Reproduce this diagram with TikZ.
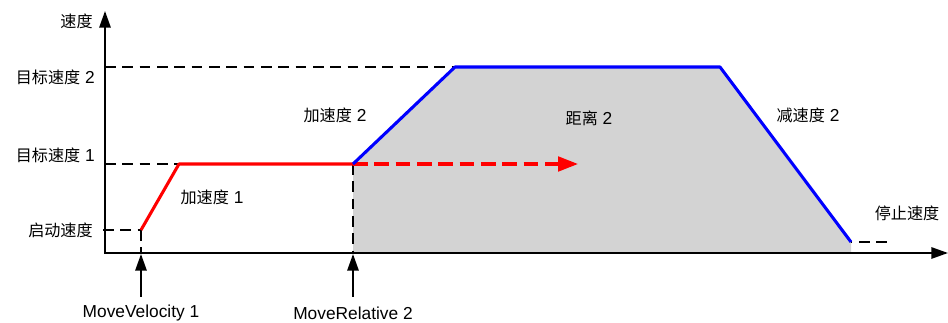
\documentclass[tikz,border=0pt]{standalone}
\usepackage{fontspec}
\setmainfont{Liberation Sans}
\newfontfamily\cjk[Scale=0.93]{Noto Sans CJK SC}
\usetikzlibrary{arrows.meta}
\definecolor{areagray}{RGB}{211,211,211}
\definecolor{pureblue}{RGB}{0,0,255}
\definecolor{purered}{RGB}{255,0,0}
\begin{document}
\begin{tikzpicture}[x=0.75pt,y=-0.75pt,
  lbl/.style={font=\fontsize{13}{15}\selectfont, inner sep=0pt},
  axisline/.style={line width=1.4pt,-{Triangle[length=12.5pt,width=8.5pt]}},
  guide/.style={line width=1.1pt,dash pattern=on 8pt off 5pt},
  redline/.style={line width=2.3pt,purered,line join=round},
  blueline/.style={line width=2.3pt,pureblue,line join=round},
  reddash/.style={line width=2.3pt,purered,dash pattern=on 11pt off 5pt,-{Triangle[length=15pt,width=11pt]}},
  cmdarrow/.style={line width=1.4pt,-{Triangle[length=12.5pt,width=8.5pt]}}]
\useasboundingbox (0,0) rectangle (948,323);
% key points
\coordinate (O) at (105,253);
\coordinate (Ytop) at (105,11);
\coordinate (Xend) at (948,253);
\coordinate (S0) at (141,230);
\coordinate (S1) at (179,164);
\coordinate (R0) at (353,164);
\coordinate (Rend) at (578,164);
\coordinate (B1) at (455,67);
\coordinate (B2) at (720,67);
\coordinate (B3) at (851,242);
\coordinate (B3b) at (851,253);
\coordinate (R0b) at (353,253);
\coordinate (S0b) at (141,253);
\coordinate (L2) at (105,67);
\coordinate (L1) at (105,164);
\coordinate (Ls) at (103,230);
\coordinate (Le) at (887,242);
\coordinate (A1s) at (141,297);
\coordinate (A1e) at (141,254);
\coordinate (A2s) at (353,297);
\coordinate (A2e) at (353,254);
% shaded area
\fill[areagray] (R0b) -- (R0) -- (B1) -- (B2) -- (B3) -- (B3b) -- cycle;
% guides
\draw[guide] (L2) -- (B1);
\draw[guide] (L1) -- (S1);
\draw[guide] (Ls) -- (S0);
\draw[guide] (S0) -- (S0b);
\draw[guide] (R0) -- (R0b);
\draw[guide,dash phase=-6pt] (B3) -- (Le);
% axes
\draw[axisline] (O) -- (Ytop);
\draw[axisline] ([xshift=-0.7pt]O) -- (Xend);
% profiles
\draw[redline] (S0) -- (S1) -- (R0);
\draw[reddash] (R0) -- (Rend);
\draw[blueline] (R0) -- (B1) -- (B2) -- (B3);
% command arrows
\draw[cmdarrow] (A1s) -- (A1e);
\draw[cmdarrow] (A2s) -- (A2e);
% labels
\node[lbl,anchor=east] (ly) at (93,21) {\cjk 速度};
\node[lbl,anchor=east] (lv2) at (95,77) {{\cjk 目标速度} 2};
\node[lbl,anchor=east] (lv1) at (95,155) {{\cjk 目标速度} 1};
\node[lbl,anchor=east] (lvs) at (93,230) {\cjk 启动速度};
\node[lbl] (la1) at (212,197) {{\cjk 加速度} 1};
\node[lbl] (la2) at (335,115) {{\cjk 加速度} 2};
\node[lbl] (ld2) at (589,118) {{\cjk 距离} 2};
\node[lbl] (ldc) at (808,115) {{\cjk 减速度} 2};
\node[lbl] (lstop) at (907,213) {\cjk 停止速度};
\node[lbl] (lmv) at (141,313) {MoveVelocity 1};
\node[lbl] (lmr) at (353,313) {MoveRelative 2};
\end{tikzpicture}
\end{document}
